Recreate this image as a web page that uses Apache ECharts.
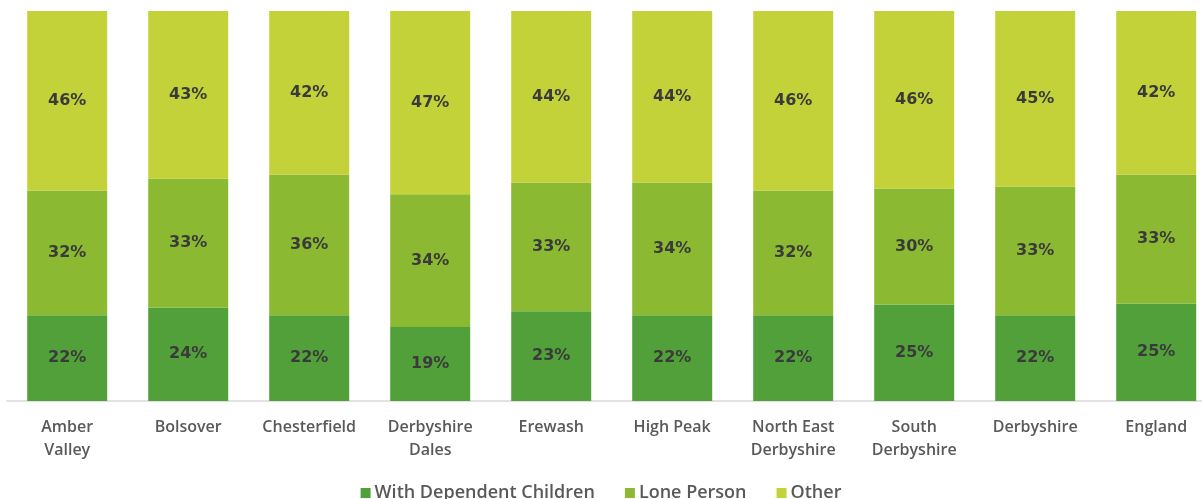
<!DOCTYPE html>
<html>
<head>
<meta charset="utf-8">
<script src="https://cdn.jsdelivr.net/npm/echarts@6/dist/echarts.min.js"></script>
<style>
html,body{margin:0;padding:0;background:#fff;}
#c{width:1202px;height:499px;}
</style>
</head>
<body>
<div id="c"></div>
<script>
var categories = ["Amber\nValley","Bolsover","Chesterfield","Derbyshire\nDales","Erewash","High Peak","North East\nDerbyshire","South\nDerbyshire","Derbyshire","England"];
var withDependentChildren = [22,24,22,19,23,22,22,25,22,25];
var lonePerson = [32,33,36,34,33,34,32,30,33,33];
var other = [46,43,42,47,44,44,46,46,45,42];
var seriesNames = ["With Dependent Children","Lone Person","Other"];
var colors = ["#52a03a","#8cb932","#c4d23a"];

var raw = [withDependentChildren, lonePerson, other];
var totals = categories.map(function(_, i){ return raw[0][i] + raw[1][i] + raw[2][i]; });

var chart = echarts.init(document.getElementById('c'));
var series = raw.map(function(arr, s){
  return {
    name: seriesNames[s],
    type: 'bar',
    stack: 'total',
    barWidth: 80,
    itemStyle: {color: colors[s]},
    label: {
      show: true,
      position: 'inside',
      color: '#3a3a3a',
      fontFamily: 'DejaVu Sans',
      fontWeight: 'bold',
      fontSize: 16,
      formatter: function(p){ return arr[p.dataIndex] + '%'; }
    },
    data: arr.map(function(v, i){ return v / totals[i] * 100; })
  };
});

chart.setOption({
  animation: false,
  grid: {left: 6.7, width: 1210, top: 11, height: 390, containLabel: false, outerBoundsMode: 'none'},
  legend: {
    top: 479,
    left: 'center',
    itemWidth: 10,
    itemHeight: 10,
    itemGap: 30,
    icon: 'rect',
    textStyle: {color: '#595959', fontFamily: 'Open Sans', fontWeight: 600, fontSize: 18, padding: [0,0,0,-1]},
    data: seriesNames
  },
  xAxis: {
    type: 'category',
    data: categories,
    axisLine: {lineStyle: {color: '#d9d9d9', width: 1.5}},
    axisTick: {show: false},
    axisLabel: {
      interval: 0,
      margin: 15,
      color: '#595959',
      fontFamily: 'Open Sans',
      fontWeight: 600,
      fontSize: 16,
      lineHeight: 23,
      align: 'center'
    }
  },
  yAxis: {
    type: 'value',
    min: 0,
    max: 100,
    show: false,
    splitLine: {show: false}
  },
  series: series
});
</script>
</body>
</html>
